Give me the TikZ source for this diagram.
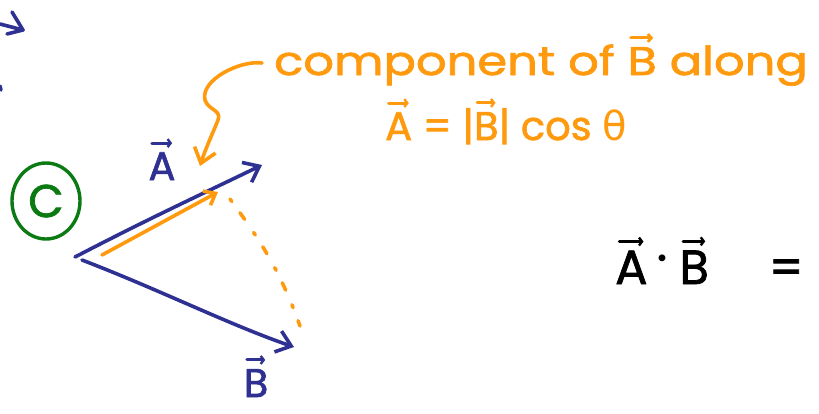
\documentclass[tikz,border=0pt]{standalone}
\usepackage{fontspec}
\setmainfont{Poppins}[BoldFont=Poppins, BoldFeatures={FakeBold=1.6}]
\newfontfamily\gk{DejaVu Sans}
\usetikzlibrary{arrows.meta,shapes.geometric}
\definecolor{penblue}{HTML}{2E3192}
\definecolor{penorange}{HTML}{FF9A0E}
\definecolor{pengreen}{HTML}{0B7A12}
\tikzset{
  pen/.style={line width=3.6pt, line cap=round, line join=round},
  barb/.style={-{Straight Barb[length=14pt,width=22pt,line width=3.6pt]}},
  bluetxt/.style={text=penblue, font=\fontsize{40}{46}\selectfont\bfseries, inner sep=0pt},
  oratxt/.style={text=penorange, font=\fontsize{40}{46}\selectfont\bfseries, inner sep=0pt},
}
\newlength\hvl
\newcommand{\hvec}[1]{\settowidth{\hvl}{#1}\leavevmode\vbox{\offinterlineskip\halign{\hfil##\hfil\cr\tikz\draw[line width=3pt,line cap=round,-{Straight Barb[length=3pt,width=8pt,line width=2.4pt]}] (0,0)--(0.75\hvl,0);\cr\noalign{\kern4pt}#1\cr}}}
\begin{document}
\begin{tikzpicture}[x=1pt,y=-1pt]
\useasboundingbox (0,0) rectangle (819,413);
% top-left fragment
\coordinate (f0) at (0,24);
\coordinate (f1) at (23,30);
\coordinate (f2) at (12,12);
\coordinate (f3) at (7,34);
\draw[pen,penblue] (f0) -- (f1);
\draw[pen,penblue] (f2) -- (f1) -- (f3);
\coordinate (d0) at (0,86);
\coordinate (d1) at (1,90);
\draw[pen,penblue] (d0) -- (d1);
% C circled
\node[ellipse, draw=pengreen, line width=3.4pt, minimum width=68pt, minimum height=76pt, text=pengreen, font=\fontsize{46}{50}\selectfont\bfseries, inner sep=0pt] (C) at (46,201) {C};
% vectors
\coordinate (OA) at (75,257);
\coordinate (OB) at (82,260);
\coordinate (At) at (262,165);
\coordinate (Bt) at (294,347);
\draw[pen,penblue,barb] (OA) .. controls (150,218) and (200,195) .. (At);
\draw[pen,penblue,barb] (OB) .. controls (160,290) and (230,325) .. (Bt);
\node[bluetxt, anchor=base] (Alab) at (162,180) {\hvec{A}};
\node[bluetxt, anchor=base] (Blab) at (256,397) {\hvec{B}};
% projection
\coordinate (P0) at (102,255);
\coordinate (P1) at (218,192);
\draw[pen,penorange,-{Straight Barb[length=10pt,width=16pt,line width=3.6pt]}] (P0) -- (P1);
\coordinate (D0) at (230,199);
\coordinate (D1) at (300,326);
\draw[pen,penorange,dash pattern=on 3pt off 14pt on 8pt off 16pt] (D0) .. controls (260,240) and (280,270) .. (D1);
% curly pointer
\coordinate (c0) at (262,63);
\coordinate (c1) at (200,166);
\draw[pen,penorange,barb] (c0) .. controls (240,60) and (200,80) .. (205,100)
   .. controls (208,110) and (222,110) .. (218,120) .. controls (212,135) and (205,150) .. (c1);
% orange text
\node[oratxt, anchor=base west] (t1) at (274,75) {\scalebox{1.2}[1]{component of \hvec{B} along}};
\node[oratxt, anchor=base west] (t2) at (385,140) {\hvec{A} = |\hvec{B}| cos {\gk\mdseries θ}};
% black
\node[font=\fontsize{48}{52}\selectfont\bfseries, anchor=base west, inner sep=0pt] (AB) at (615,284) {\hvec{A}\hspace{6pt}\raisebox{0.2em}{\scalebox{2.6}{$\cdot$}}\hspace{8pt}\hvec{B}\hspace{60pt}=};
\end{tikzpicture}
\end{document}
